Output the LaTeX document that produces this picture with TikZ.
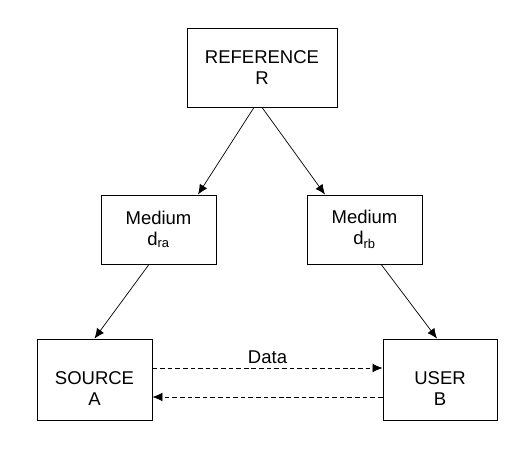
\documentclass[tikz,border=0pt]{standalone}
\usepackage{fontspec}
\setmainfont{Liberation Sans}
\usepackage{tikz}
\usetikzlibrary{arrows.meta}
\tikzset{%Global config
	>={Latex[length=3mm,width=2.6mm]},
	color = black ,
	%Styles
	Box/.style={
		draw,
		line width=0.75pt,
		align=center,
		inner sep=0pt,
		font=\fontsize{15.8}{18}\selectfont,
	},
	Link/.style={
		->,
		line width=0.6pt,
	},
	DLink/.style={
		->,
		dash pattern=on 4pt off 2.5pt,
		line width=0.6pt,
	}
}

\begin{document}
\begin{tikzpicture}
		\useasboundingbox (0,0) rectangle (15.87,13.62);
		% Boxes
		\node[Box, minimum width=4.5cm, minimum height=2.37cm] (R) at (7.86,11.595) {REFERENCE\\R};
		\node[Box, minimum width=3.45cm, minimum height=2.07cm] (Dra) at (4.755,6.735) {Medium\\d\textsubscript{ra}};
		\node[Box, minimum width=3.45cm, minimum height=2.07cm] (Drb) at (10.935,6.735) {Medium\\d\textsubscript{rb}};
		% text sits low in the bottom boxes
		\node[Box, minimum width=3.45cm, minimum height=2.43cm, align=none] (A) at (2.835,2.235)
			{\raisebox{-0.33cm}[\height][\depth]{\begin{tabular}{@{}c@{}}SOURCE\\A\end{tabular}}};
		\node[Box, minimum width=3.42cm, minimum height=2.43cm, align=none] (B) at (13.2,2.235)
			{\raisebox{-0.33cm}[\height][\depth]{\begin{tabular}{@{}c@{}}USER\\B\end{tabular}}};
		
		% Links
		\draw[Link] ([xshift=-0.24cm]R.south) -- ([xshift=1.185cm]Dra.north);
		\draw[Link] (R.south) -- ([xshift=-1.185cm]Drb.north);
		\draw[Link] ([xshift=-0.285cm]Dra.south) -- (A.north);
		\draw[Link] ([xshift=0.5cm]Drb.south) -- ([xshift=-0.09cm]B.north);
		\draw[DLink] ([yshift=0.345cm]A.east) -- node[above, font=\fontsize{15.8}{18}\selectfont]{Data} ([yshift=0.345cm]B.west);
		\draw[DLink] ([yshift=-0.525cm]B.west) -- ([yshift=-0.525cm]A.east);
	\end{tikzpicture}
\end{document}
